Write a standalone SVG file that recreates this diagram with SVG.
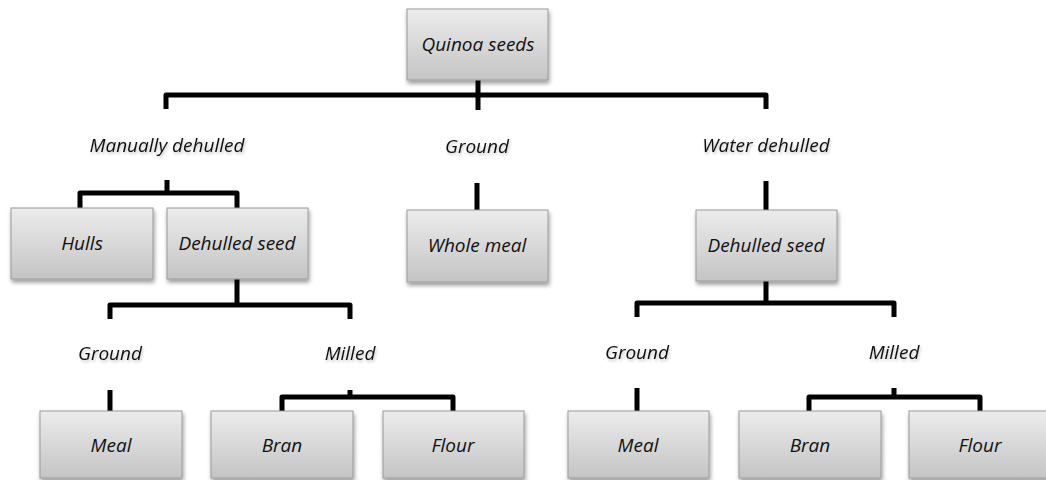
<svg xmlns="http://www.w3.org/2000/svg" width="1046" height="480" viewBox="0 0 1046 480">
<defs>
<linearGradient id="boxGrad" x1="0" y1="0" x2="0" y2="1">
<stop offset="0" stop-color="#ececec"/>
<stop offset="1" stop-color="#c4c4c4"/>
</linearGradient>
<filter id="shadow" x="-10%" y="-10%" width="125%" height="135%">
<feGaussianBlur in="SourceAlpha" stdDeviation="2"/>
<feOffset dx="1" dy="3" result="b"/>
<feComponentTransfer><feFuncA type="linear" slope="0.4"/></feComponentTransfer>
<feMerge><feMergeNode/><feMergeNode in="SourceGraphic"/></feMerge>
</filter>
<filter id="tshadow" x="-10%" y="-30%" width="120%" height="170%">
<feGaussianBlur in="SourceAlpha" stdDeviation="1.5"/>
<feOffset dx="1" dy="2" result="b"/>
<feComponentTransfer><feFuncA type="linear" slope="0.25"/></feComponentTransfer>
<feMerge><feMergeNode/><feMergeNode in="SourceGraphic"/></feMerge>
</filter>
</defs>
<style>
.box{fill:url(#boxGrad);stroke:#9a9a9a;stroke-width:1;filter:url(#shadow)}
.t{font-family:"Open Sans","Liberation Sans",sans-serif;font-style:italic;font-size:19px;fill:#111;text-anchor:middle}
.lbl{filter:url(#tshadow)}
.c{fill:none;stroke:#000;stroke-width:5;stroke-linejoin:round}
</style>
<rect width="1046" height="480" fill="#fff"/>
<g id="connectors">
<path class="c" d="M478 80V110"/>
<path class="c" d="M166 109V95H766V109"/>
<path class="c" d="M167 180V193"/>
<path class="c" d="M80 208V193H237V208"/>
<path class="c" d="M477 183V210"/>
<path class="c" d="M766 181V210"/>
<path class="c" d="M237 279V305"/>
<path class="c" d="M110 319V305H350V319"/>
<path class="c" d="M766 281V303"/>
<path class="c" d="M637 317V303H894V317"/>
<path class="c" d="M110 390V411"/>
<path class="c" d="M350 390V397"/>
<path class="c" d="M282 411V397H453V411"/>
<path class="c" d="M637 388V411"/>
<path class="c" d="M894 388V397"/>
<path class="c" d="M809 411V397H980V411"/>
</g>
<g id="quinoa"><rect class="box" x="407" y="9" width="141" height="71"/><text class="t" x="478" y="51">Quinoa seeds</text></g>
<g id="lbl-manual" class="lbl"><text class="t" x="167" y="152">Manually dehulled</text></g>
<g id="lbl-ground-top" class="lbl"><text class="t" x="477" y="153">Ground</text></g>
<g id="lbl-water" class="lbl"><text class="t" x="766" y="152">Water dehulled</text></g>
<g id="hulls"><rect class="box" x="11" y="208" width="142" height="71"/><text class="t" x="82" y="250">Hulls</text></g>
<g id="dehulled-left"><rect class="box" x="167" y="208" width="141" height="71"/><text class="t" x="237" y="250">Dehulled seed</text></g>
<g id="whole-meal"><rect class="box" x="407" y="210" width="141" height="72"/><text class="t" x="477" y="252">Whole meal</text></g>
<g id="dehulled-right"><rect class="box" x="696" y="210" width="141" height="71"/><text class="t" x="766" y="252">Dehulled seed</text></g>
<g id="lbl-ground-left" class="lbl"><text class="t" x="110" y="360">Ground</text></g>
<g id="lbl-milled-left" class="lbl"><text class="t" x="350" y="360">Milled</text></g>
<g id="lbl-ground-right" class="lbl"><text class="t" x="637" y="359">Ground</text></g>
<g id="lbl-milled-right" class="lbl"><text class="t" x="894" y="359">Milled</text></g>
<g id="meal-left"><rect class="box" x="40" y="411" width="142" height="67"/><text class="t" x="111" y="452">Meal</text></g>
<g id="bran-left"><rect class="box" x="211" y="411" width="142" height="67"/><text class="t" x="282" y="452">Bran</text></g>
<g id="flour-left"><rect class="box" x="383" y="411" width="141" height="67"/><text class="t" x="453" y="452">Flour</text></g>
<g id="meal-right"><rect class="box" x="568" y="411" width="141" height="67"/><text class="t" x="638" y="452">Meal</text></g>
<g id="bran-right"><rect class="box" x="739" y="411" width="142" height="67"/><text class="t" x="810" y="452">Bran</text></g>
<g id="flour-right"><rect class="box" x="909" y="411" width="142" height="67"/><text class="t" x="980" y="452">Flour</text></g>
</svg>
